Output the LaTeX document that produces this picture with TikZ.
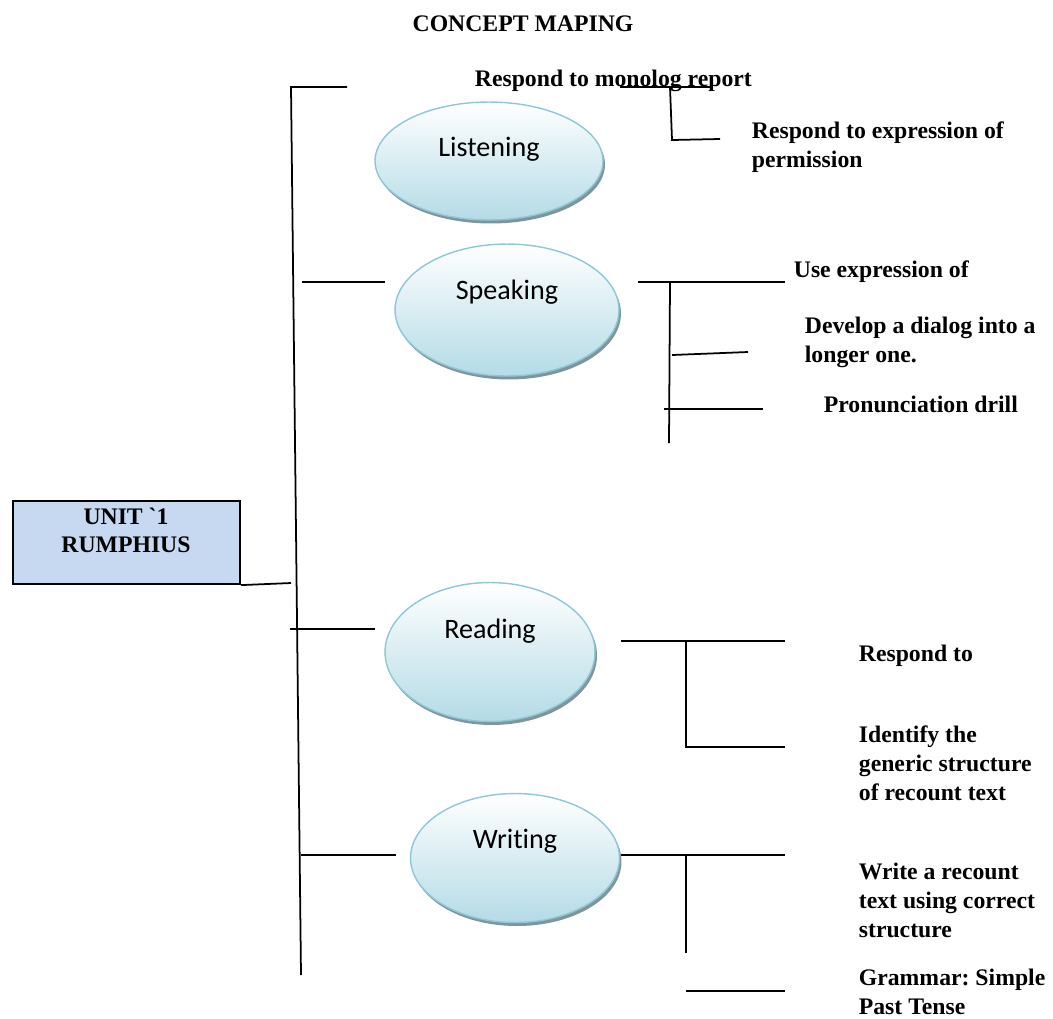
\documentclass[tikz,border=0pt]{standalone}
\usepackage{fontspec}
\setmainfont{Liberation Serif}
\newfontfamily\skillfont[Ligatures=NoCommon]{Carlito}
\usepackage{tikz}
\usetikzlibrary{shapes.geometric,shadows}
\definecolor{boxblue}{RGB}{198,217,241}
\definecolor{ellline}{RGB}{141,200,216}
\definecolor{ellfill}{RGB}{180,219,230}
\definecolor{ellshade}{RGB}{128,148,158}
\frenchspacing

\begin{document}
\begin{tikzpicture}[x=0.02cm,y=-0.02cm,line width=1pt,
  skill/.style={ellipse,draw=ellline,line width=0.8pt,top color=white,bottom color=ellfill,inner sep=0pt,
    drop shadow={shadow xshift=0.04cm,shadow yshift=-0.07cm,fill=ellshade,opacity=1}},
  skilltxt/.style={font=\skillfont\fontsize{16}{19}\selectfont,inner sep=0pt,anchor=base},
  item/.style={font=\bfseries\fontsize{13.5}{16.4}\selectfont,inner sep=0pt,anchor=base west,align=left},
  unitbox/.style={draw,line width=1.2pt,fill=boxblue,minimum width=4.54cm,minimum height=1.66cm,inner sep=0pt,anchor=north west}]
  \useasboundingbox (0,0) rectangle (1053,1018);

  \node[font=\bfseries\fontsize{13.5}{16}\selectfont,inner sep=0pt,anchor=base] (title) at (523,31) {CONCEPT MAPING};

  \node[unitbox] (unit) at (12,500) {};
  \node[font=\bfseries\fontsize{13.5}{15.5}\selectfont,inner sep=0pt,anchor=base,align=center] (unittxt) at (126,552) {UNIT \textasciigrave1\\RUMPHIUS};

  % the four skills
  \node[skill,minimum width=4.56cm,minimum height=2.36cm] (listen) at (489,161) {};
  \node[skill,minimum width=4.48cm,minimum height=2.64cm] (speak) at (507,310) {};
  \node[skill,minimum width=4.2cm,minimum height=2.78cm] (read) at (490,652) {};
  \node[skill,minimum width=4.18cm,minimum height=2.58cm] (write) at (515,858) {};
  \node[skilltxt] (listentxt) at ([yshift=-1.1cm]listen.north) {Listening};
  \node[skilltxt] (speaktxt) at ([yshift=-1.12cm]speak.north) {Speaking};
  \node[skilltxt] (readtxt) at ([yshift=-1.14cm]read.north) {Reading};
  \node[skilltxt] (writetxt) at ([yshift=-1.12cm]write.north) {Writing};

  % indicators (base = last line)
  \node[item] (monolog) at (474,86) {Respond to monolog report};
  \node[item] (permit) at (751,167) {Respond to expression of\\permission};
  \node[item] (useexp) at (793,277) {Use expression of};
  \node[item] (dialog) at (804,362) {Develop a dialog into a\\longer one.};
  \node[item] (drill) at (823,412) {Pronunciation drill};
  \node[item] (respond) at (858,661) {Respond to};
  \node[item] (generic) at (858,800) {Identify the\\generic structure\\of recount text};
  \node[item] (recount) at (858,937) {Write a recount\\text using correct\\structure};
  \node[item] (grammar) at (858,1014) {Grammar: Simple\\Past Tense};

  % trunk and its stubs
  \coordinate (ttop) at (291,87); \coordinate (tstub) at (347,87); \coordinate (tend) at (301,975);
  \coordinate (sA) at (302,282); \coordinate (sB) at (385,282);
  \coordinate (uB) at (291,583);
  \coordinate (rA) at (290,629); \coordinate (rB) at (375,629);
  \coordinate (wA) at (301,855); \coordinate (wB) at (396,855);
  \draw (tstub) -- (ttop) -- (tend);
  \draw (sA) -- (sB);
  \draw (unit.south east) -- (uB);
  \draw (rA) -- (rB);
  \draw (wA) -- (wB);

  % listening branch
  \coordinate (lA) at (620,87); \coordinate (lB) at (712,87);
  \coordinate (lC) at (670,87); \coordinate (lD) at (672,140); \coordinate (lE) at (720,139);
  \draw (lA) -- (lB);
  \draw (lC) -- (lD) -- (lE);

  % speaking branch
  \coordinate (kA) at (638,282); \coordinate (kB) at (785,282);
  \coordinate (kC) at (670,282); \coordinate (kD) at (669,443);
  \coordinate (kE) at (672,355); \coordinate (kF) at (748,352);
  \coordinate (kG) at (664,409); \coordinate (kH) at (763,409);
  \draw (kA) -- (kB);
  \draw (kC) -- (kD);
  \draw (kE) -- (kF);
  \draw (kG) -- (kH);

  % reading branch
  \coordinate (rC) at (621,641); \coordinate (rD) at (785,641);
  \coordinate (rE) at (686,641); \coordinate (rF) at (686,747); \coordinate (rG) at (785,747);
  \draw (rC) -- (rD);
  \draw (rE) -- (rF) -- (rG);

  % writing branch
  \coordinate (wC) at (621,855); \coordinate (wD) at (785,855);
  \coordinate (wE) at (686,855); \coordinate (wF) at (686,953);
  \coordinate (wG) at (686,991); \coordinate (wH) at (785,991);
  \draw (wC) -- (wD);
  \draw (wE) -- (wF);
  \draw (wG) -- (wH);
\end{tikzpicture}
\end{document}
